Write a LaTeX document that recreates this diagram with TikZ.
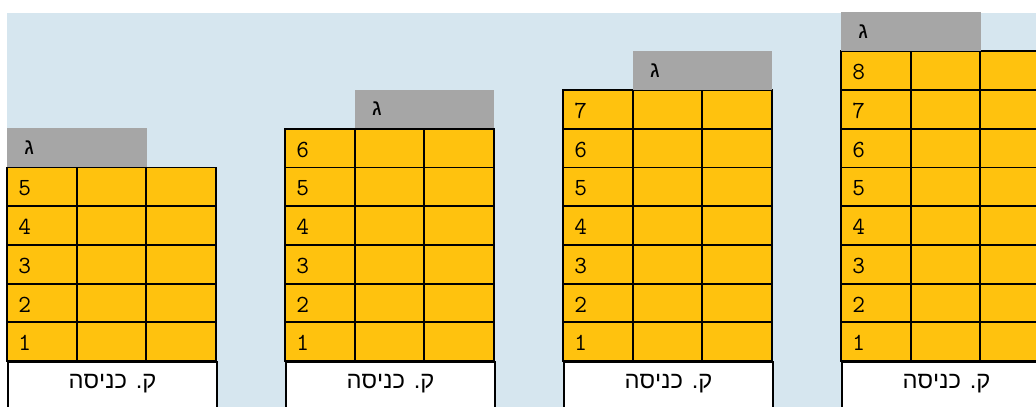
\documentclass[tikz,border=0pt]{standalone}
\usepackage{fontspec}
\usepackage{tikz}
\usetikzlibrary{positioning}
\newfontfamily\hebfont{Liberation Sans}
\newfontfamily\hebmono{Liberation Mono}
\TeXXeTstate=1
\definecolor{BldSky}  {HTML}{D6E6EF}
\definecolor{BldFloor}{HTML}{FFC20E}
\definecolor{BldRoof} {HTML}{A6A6A6}

\begin{document}
\begin{tikzpicture}[
    cell/.style={draw=black,line width=1.1pt,fill=BldFloor,
                 minimum width=1.393cm,minimum height=0.774cm,inner sep=0pt},
    num/.style={anchor=west,inner xsep=0.24cm,inner ysep=0pt,yshift=-0.03cm,
                font=\ttfamily\fontsize{14}{16}\selectfont},
    roof/.style={fill=BldRoof,anchor=south west,inner xsep=0.3cm,inner ysep=0pt,
                 text width=2.186cm,align=left,minimum height=0.774cm,
                 font=\hebmono\fontsize{13}{15}\selectfont},
    entr/.style={draw=black,line width=1.1pt,fill=white,anchor=north west,
                 inner sep=0pt,minimum width=4.179cm,
                 text height=0.54cm,text depth=1.2cm,
                 font=\hebfont\fontsize{13.5}{15}\selectfont}
  ]
    \useasboundingbox (0,0) rectangle (20.72,-8.14);
    \clip (0,0) rectangle (20.72,-8.14);
    \fill[BldSky] (0.14,-0.26) rectangle (20.72,-8.14);
    % buildings: index / floors / roof column
    \foreach \b/\n/\rc in {1/5/0,2/6/1,3/7/1,4/8/0}{
      \pgfmathsetmacro\bx{0.14+5.56*(\b-1)}
      \node[entr] (b\b-ent) at (\bx,-7.22) {\beginR ק. כניסה\endR};
      \foreach \r in {1,...,\n}{
        \foreach \c in {1,2,3}
          \node[cell] (b\b-\r-\c) at ({\bx+1.393*(\c-0.5)},{-7.22+0.774*(\r-0.5)}) {};
        \node[num] (b\b-n\r) at (b\b-\r-1.west) {\r};
      }
      \node[roof] (b\b-roof) at ({\bx+1.393*\rc},{-7.22+0.774*\n}) {ג};
    }
  \end{tikzpicture}
\end{document}
